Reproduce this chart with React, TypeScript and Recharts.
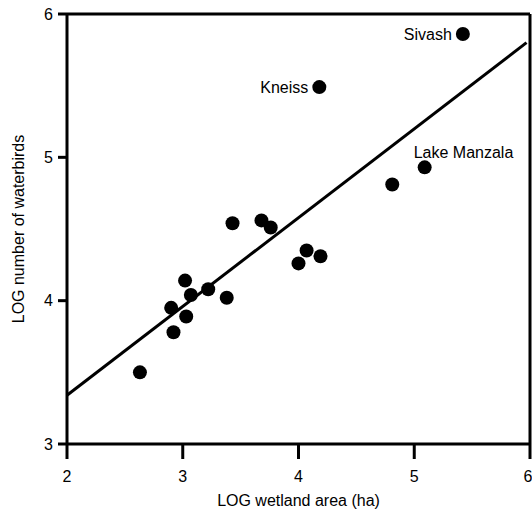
import React from "react";
import { ScatterChart, Scatter, XAxis, YAxis, ReferenceLine } from "recharts";

// wetland sites: LOG area (ha) vs LOG number of waterbirds
const logArea = [2.63, 2.92, 2.9, 3.03, 3.02, 3.07, 3.22, 3.38, 3.43, 3.68, 3.76, 4.0, 4.07, 4.19, 4.81, 5.09, 4.18, 5.42];
const logBirds = [3.5, 3.78, 3.95, 3.89, 4.14, 4.04, 4.08, 4.02, 4.54, 4.56, 4.51, 4.26, 4.35, 4.31, 4.81, 4.93, 5.49, 5.86];
const siteNames = ["", "", "", "", "", "", "", "", "", "", "", "", "", "", "", "Lake Manzala", "Kneiss", "Sivash"];

const xTicks = [2, 3, 4, 5, 6];
const yTicks = [3, 4, 5, 6];

// fitted regression line ends
const fitX = [2, 5.97];
const fitY = [3.34, 5.8];

const data = logArea.map((x, i) => ({ x, y: logBirds[i], name: siteNames[i] }));

const FONT = "'Liberation Sans', Arial, sans-serif";

const Dot = (props: any) => {
    const { cx, cy, payload } = props;
    const name = payload?.name;
    let label = null;
    if (name === "Lake Manzala") {
        label = <text x={cx - 11} y={cy - 9} fontSize={16} fontFamily={FONT} fill="#000">{name}</text>;
    } else if (name) {
        label = <text x={cx - 11} y={cy + 6} textAnchor="end" fontSize={16} fontFamily={FONT} fill="#000">{name}</text>;
    }
    return (
        <g>
            <circle cx={cx} cy={cy} r={7} fill="#000" />
            {label}
        </g>
    );
};

export default function App() {
    const tickStyle = { fontSize: 16, fontFamily: FONT, fill: "#000" };
    return (
        <div style={{ position: "absolute", left: 0, top: 0, background: "#fff" }}>
            <ScatterChart width={532} height={510} margin={{ top: 14, right: 2, left: 0, bottom: 0 }}>
                <XAxis
                    type="number"
                    dataKey="x"
                    domain={[2, 6]}
                    ticks={xTicks}
                    allowDataOverflow
                    height={66}
                    tickSize={15}
                    tickMargin={12}
                    tick={tickStyle}
                    axisLine={{ stroke: "#000", strokeWidth: 3 }}
                    tickLine={{ stroke: "#000", strokeWidth: 3 }}
                    label={{
                        content: (p: any) => (
                            <text x={p.viewBox.x + p.viewBox.width / 2} y={506} textAnchor="middle" fontSize={16} fontFamily={FONT} fill="#000">
                                LOG wetland area (ha)
                            </text>
                        ),
                    }}
                />
                <YAxis
                    type="number"
                    dataKey="y"
                    domain={[3, 6]}
                    ticks={yTicks}
                    allowDataOverflow
                    width={67}
                    tickSize={9}
                    tickMargin={5}
                    tick={tickStyle}
                    axisLine={{ stroke: "#000", strokeWidth: 3 }}
                    tickLine={{ stroke: "#000", strokeWidth: 3 }}
                    label={{
                        content: (p: any) => {
                            const cy = p.viewBox.y + p.viewBox.height / 2;
                            return (
                                <text x={24} y={cy} transform={`rotate(-90, 24, ${cy})`} textAnchor="middle" fontSize={16} fontFamily={FONT} fill="#000">
                                    LOG number of waterbirds
                                </text>
                            );
                        },
                    }}
                />
                <ReferenceLine y={6} stroke="#000" strokeWidth={3} />
                <ReferenceLine x={6} stroke="#000" strokeWidth={3} />
                <ReferenceLine
                    segment={[{ x: fitX[0], y: fitY[0] }, { x: fitX[1], y: fitY[1] }]}
                    stroke="#000"
                    strokeWidth={3}
                />
                <Scatter data={data} shape={<Dot />} isAnimationActive={false} />
            </ScatterChart>
        </div>
    );
}
